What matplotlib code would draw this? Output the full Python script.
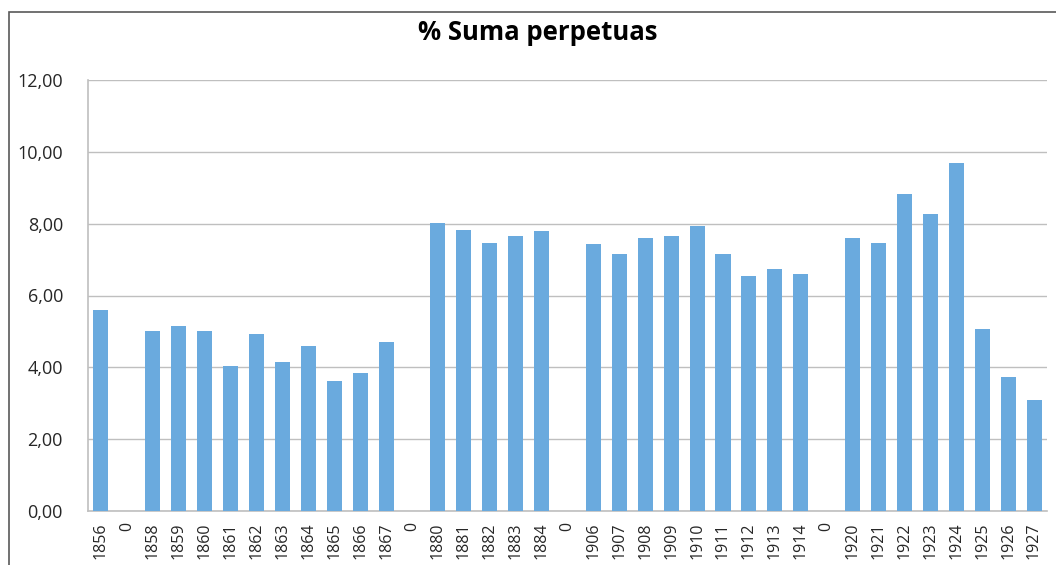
import matplotlib.pyplot as plt
from matplotlib.patches import Rectangle
from matplotlib.ticker import FuncFormatter

plt.rcParams['font.family'] = ['Open Sans', 'DejaVu Sans']

# data
labels = ['1856', '0', '1858', '1859', '1860', '1861', '1862', '1863', '1864',
          '1865', '1866', '1867', '0', '1880', '1881', '1882', '1883', '1884',
          '0', '1906', '1907', '1908', '1909', '1910', '1911', '1912', '1913',
          '1914', '0', '1920', '1921', '1922', '1923', '1924', '1925', '1926',
          '1927']
values = [5.60, 0, 5.01, 5.15, 5.01, 4.04, 4.93, 4.15, 4.60,
          3.62, 3.84, 4.71, 0, 8.02, 7.83, 7.47, 7.66, 7.80,
          0, 7.44, 7.16, 7.60, 7.66, 7.94, 7.16, 6.55, 6.74,
          6.60, 0, 7.60, 7.47, 8.83, 8.27, 9.69, 5.07, 3.73,
          3.09]
y_ticks = [0, 2, 4, 6, 8, 10, 12]

fig = plt.figure(figsize=(10.56, 5.65), dpi=100)
ax = fig.add_axes([88 / 1056, 1 - 511 / 565, (1047 - 88) / 1056, (511 - 80) / 565])

# chart frame (runs off the right and bottom of the picture)
fig.patches.append(Rectangle((9 / 1056, -0.1), 1.2, 1 - 12 / 565 + 0.1,
                             transform=fig.transFigure, fill=False,
                             edgecolor='#595959', linewidth=1.2))

x = list(range(len(labels)))
ax.bar(x, values, width=0.58, color='#6aaade', zorder=3)

ax.set_xlim(-0.5, len(labels) - 0.5)
ax.set_ylim(0, 12)
ax.set_yticks(y_ticks)
ax.yaxis.set_major_formatter(FuncFormatter(lambda v, p: f'{v:.2f}'.replace('.', ',')))
ax.set_xticks(x)
ax.set_xticklabels(labels, rotation=90)

ax.grid(axis='y', color='#bfbfbf', linewidth=1, zorder=0)
for side in ['top', 'right']:
    ax.spines[side].set_visible(False)
for side in ['left', 'bottom']:
    ax.spines[side].set_color('#bfbfbf')
    ax.spines[side].set_linewidth(1.2)

ax.tick_params(axis='y', length=0, pad=18, labelsize=13, labelcolor='#262626')
ax.tick_params(axis='x', length=0, pad=8, labelsize=11.5, labelcolor='#262626')

fig.text(538 / 1056, 1 - 32 / 565, '% Suma perpetuas', ha='center', va='center',
         fontsize=18.5, fontweight='bold', color='#000000')

fig.savefig('out.png', dpi=100)
